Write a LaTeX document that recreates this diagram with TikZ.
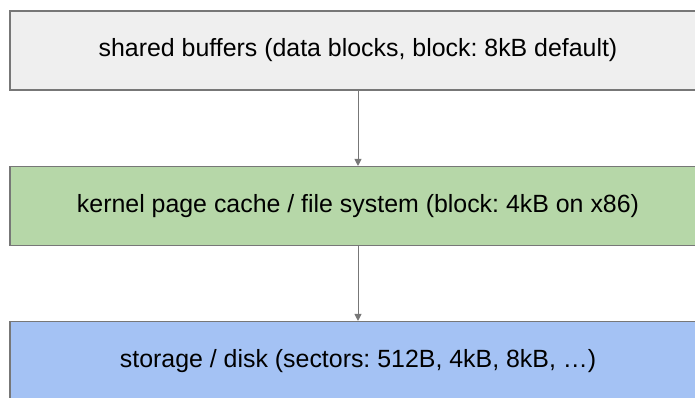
\documentclass[tikz,border=0pt]{standalone}
\usepackage{fontspec}
\setmainfont{Liberation Sans}
\usetikzlibrary{arrows.meta}
\definecolor{bufgray}{HTML}{EFEFEF}
\definecolor{cachegreen}{HTML}{B6D7A8}
\definecolor{diskblue}{HTML}{A4C2F4}
\definecolor{edgegray}{HTML}{777777}
\frenchspacing

\begin{document}
\begin{tikzpicture}[
    x=1bp, y=-1bp,
    layer/.style={draw=edgegray, line width=1.1bp, minimum width=696bp, minimum height=79bp, inner sep=0pt, font=\fontsize{25}{29}\selectfont},
    arrow/.style={-{Triangle[length=7bp, width=7bp]}, draw=edgegray, fill=edgegray, line width=1bp},
]
\useasboundingbox (0,0) rectangle (695,397);
\node[layer, fill=bufgray] (buffers) at (358,50.5) {shared buffers (data blocks, block: 8kB default)};
\node[layer, fill=cachegreen] (pagecache) at (358,206) {kernel page cache / file system (block: 4kB on x86)};
\node[layer, fill=diskblue] (disk) at (358,361) {storage / disk (sectors: 512B, 4kB, 8kB, …)};

\draw[arrow] (buffers) -- (pagecache);
\draw[arrow] (pagecache) -- (disk);

\end{tikzpicture}
\end{document}
